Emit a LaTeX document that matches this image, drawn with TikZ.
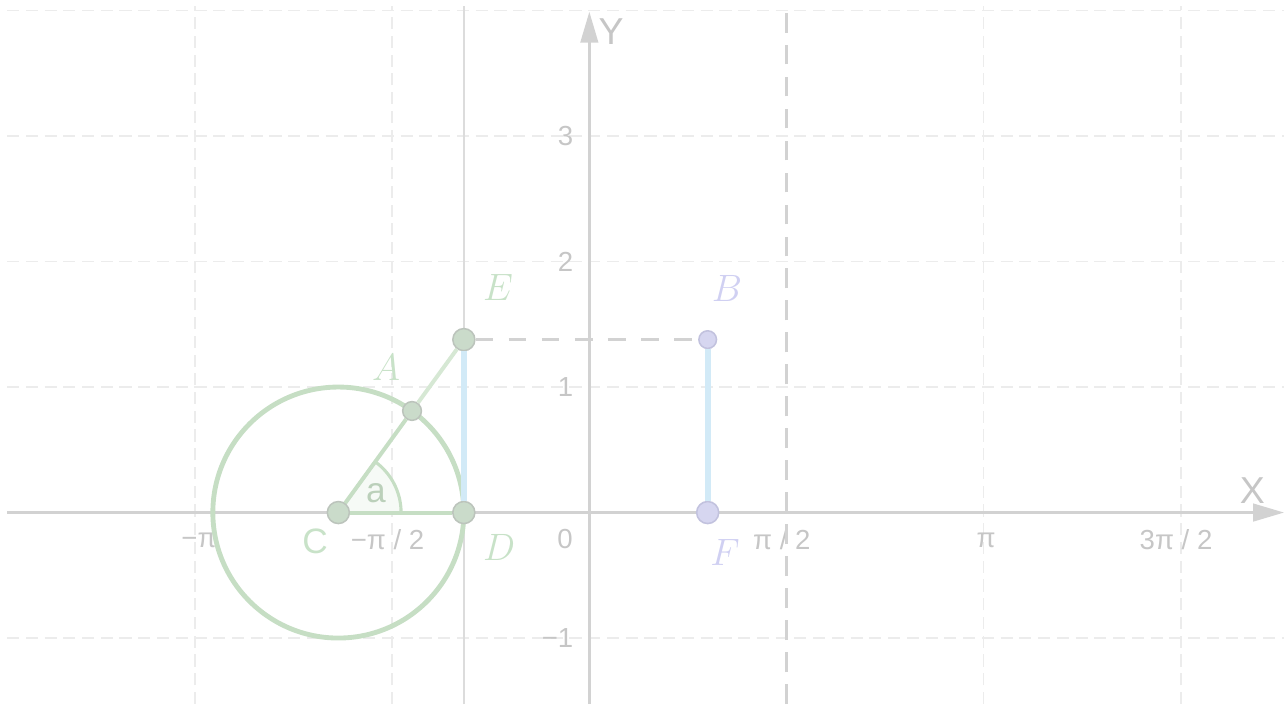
\documentclass[tikz,border=0pt]{standalone}
\usepackage{fontspec}
\setmainfont{Liberation Sans}
\usetikzlibrary{calc}
\usetikzlibrary{positioning}
\usetikzlibrary{arrows.meta}

\definecolor{gridgray}{RGB}{236,236,236}
\definecolor{axisgray}{RGB}{210,210,210}
\definecolor{linegray}{RGB}{220,220,220}
\definecolor{ticktext}{RGB}{198,198,198}
\definecolor{circgreen}{RGB}{198,222,196}
\definecolor{raygreen}{RGB}{214,232,212}
\definecolor{anglefill}{RGB}{246,250,246}
\definecolor{dotgreen}{RGB}{202,219,202}
\definecolor{dotrim}{RGB}{188,196,188}
\definecolor{labgreen}{RGB}{200,226,200}
\definecolor{tanblue}{RGB}{210,234,247}
\definecolor{dotlav}{RGB}{214,214,240}
\definecolor{rimlav}{RGB}{194,194,222}
\definecolor{lablav}{RGB}{208,208,242}

\begin{document}
\begin{tikzpicture}[
      x=2cm, y=2cm, >=Triangle,
      every node/.style={font=\fontsize{12.5}{14}\selectfont},
      gridline/.style={gridgray, line width=0.7pt, dash pattern=on 5.5pt off 3pt},
      axisline/.style={axisgray, line width=1.1pt, -{Triangle[length=14pt, width=8pt]}},
      asymline/.style={axisgray, line width=1.1pt, dash pattern=on 9pt off 5.5pt},
      gdot/.style={circle, draw=dotrim, fill=dotgreen, line width=0.7pt, minimum size=10pt, inner sep=0pt},
      sdot/.style={gdot, minimum size=8.5pt},
      ldot/.style={circle, draw=rimlav, fill=dotlav, line width=0.7pt, minimum size=10pt, inner sep=0pt},
      tlab/.style={text=ticktext, inner sep=0pt},
      glab/.style={font=\fontsize{18}{20}\selectfont, text=labgreen, inner sep=0pt},
      llab/.style={glab, text=lablav}]

      \useasboundingbox (-4.696,-1.526) rectangle (5.535,4.084);

      % grid
      \foreach \y in {-1,1,2,3,4}{ \draw[gridline] (-4.64,\y) -- (5.535,\y); }
      \foreach \x in {-3.1416,-1.5708,3.1416,4.7124}{ \draw[gridline] (\x,-1.526) -- (\x,4.04); }

      % tick labels
      \foreach \x/\lab in {-3.11/{−π}, -1.608/{−π / 2}, 1.534/{π / 2}, 3.161/{π}, 4.675/{3π / 2}}{
        \node[tlab] (tx\x) at (\x,-0.219) {\lab};
      }
      \foreach \y/\lab in {-1/{−1}, 1/1, 2/2, 3/3}{
        \node[tlab, anchor=east] (ty\y) at (-0.125,\y) {\lab};
      }
      \node[tlab] (t0) at (-0.193,-0.211) {0};

      % line x = -1, asymptote and axes
      \draw[linegray, line width=0.8pt] (-1,-1.526) -- (-1,4.04);
      \draw[asymline] (1.5708,-1.526) -- (1.5708,4.0);
      \draw[axisline] (-4.64,0) -- (5.535,0);
      \draw[axisline] (0,-1.526) -- (0,3.99);
      \node[tlab, font=\fontsize{17}{18}\selectfont] (xlab) at (5.283,0.171) {X};
      \node[tlab, font=\fontsize{17}{18}\selectfont] (ylab) at (0.173,3.829) {Y};

      % unit circle and angle
      \draw[circgreen, line width=2.2pt] (-2,0) circle[radius=1];
      \draw[circgreen, fill=anglefill, line width=1.4pt]
        (-2,0) -- (-1.5,0) arc[start angle=0, end angle=54.03, radius=0.5] -- cycle;
      \node[text=circgreen!85!gray, font=\fontsize{16}{17}\selectfont, inner sep=0pt] (alab) at (-1.70,0.155) {a};

      % points
      \node[gdot] (C) at (-2,0) {};
      \node[sdot] (A) at ({-2+cos(54.03)},{sin(54.03)}) {};
      \node[gdot] (D) at (-1,0) {};
      \node[gdot] (E) at (-1,{tan(54.03)}) {};
      \node[ldot, minimum size=8pt] (B) at (0.943,{tan(54.03)}) {};
      \node[ldot] (F) at (0.943,0) {};

      % segments
      \draw[circgreen, line width=1.8pt] (C) -- (A);
      \draw[raygreen, line width=1.8pt] (A) -- (E);
      \draw[circgreen, line width=1.8pt] (C) -- (D);
      \draw[tanblue, line width=2.7pt] (D) -- (E);
      \draw[tanblue, line width=2.7pt] (F) -- (B);
      \draw[axisgray, line width=1.3pt, dash pattern=on 8pt off 7pt] (E) -- (B);

      % point labels
      \node[glab] (labE) at (-0.728,1.797) {$E$};
      \node[glab] (labA) at (-1.619,1.159) {$A$};
      \node[glab] (labD) at (-0.719,-0.275) {$D$};
      \node[llab] (labB) at (1.096,1.789) {$B$};
      \node[llab] (labF) at (1.081,-0.315) {$F$};
      \node[text=labgreen, font=\fontsize{16}{17}\selectfont, inner sep=0pt] (labC) at (-2.186,-0.227) {C};
    \end{tikzpicture}
\end{document}
